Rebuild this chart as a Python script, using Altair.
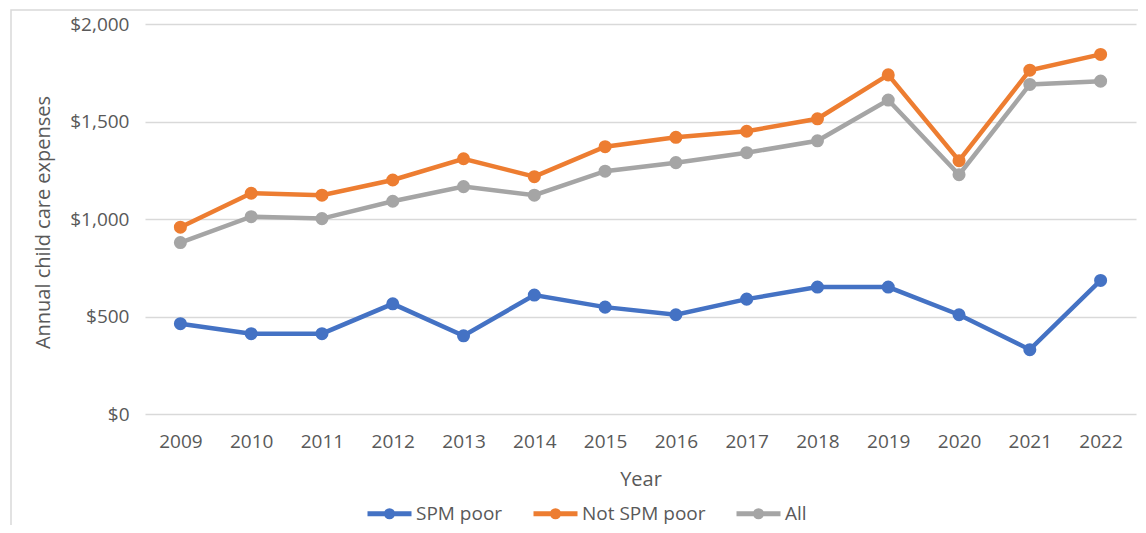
import altair as alt
import pandas as pd

years = [str(y) for y in range(2009, 2023)]
spm_poor = [463, 412, 412, 565, 401, 610, 548, 509, 589, 651, 651, 509, 330, 685]
not_spm_poor = [958, 1132, 1122, 1200, 1309, 1217, 1371, 1419, 1450, 1514, 1739, 1299, 1763, 1844]
all_families = [879, 1012, 1002, 1091, 1166, 1122, 1245, 1289, 1340, 1401, 1610, 1227, 1690, 1707]

series_names = ["SPM poor", "Not SPM poor", "All"]
series_colors = ["#4472C4", "#ED7D31", "#A5A5A5"]
y_ticks = [0, 500, 1000, 1500, 2000]

rows = []
for name, vals in zip(series_names, [spm_poor, not_spm_poor, all_families]):
    for yr, v in zip(years, vals):
        rows.append({"Year": yr, "Series": name, "Value": v})
df = pd.DataFrame(rows)

FONT = "Open Sans"
TXT = "#595959"
legend_path = "M-1,0H1M-0.14,0A0.14,0.14 0 1,1 0.14,0A0.14,0.14 0 1,1 -0.14,0Z"

lines = alt.Chart(df).mark_line(
    strokeWidth=4.5,
    point=alt.OverlayMarkDef(size=170, filled=True, opacity=1),
).encode(
    x=alt.X("Year:O", sort=years,
            scale=alt.Scale(type="point", padding=0.5),
            axis=alt.Axis(title="Year", labelAngle=0, domain=False, ticks=False, grid=False,
                          labelPadding=18, labelFontSize=19, labelColor=TXT, labelFont=FONT,
                          titleFontSize=20, titleColor=TXT, titleFont=FONT, titleFontWeight="normal",
                          titleY=55, titleBaseline="top")),
    y=alt.Y("Value:Q",
            scale=alt.Scale(domain=[0, 2000], nice=False),
            axis=alt.Axis(title="Annual child care expenses", values=y_ticks, format="$,.0f",
                          domain=False, ticks=False, grid=True, gridColor="#D9D9D9", gridWidth=1.5,
                          labelPadding=16, labelFontSize=19, labelColor=TXT, labelFont=FONT,
                          titleFontSize=20, titleColor=TXT, titleFont=FONT, titleFontWeight="normal",
                          titleX=-102, titleY=198, titleBaseline="middle", titleAlign="center",
                          titleAngle=270)),
    color=alt.Color("Series:N",
                    scale=alt.Scale(domain=series_names, range=series_colors),
                    legend=alt.Legend(title=None, orient="none", direction="horizontal",
                                      legendX=220, legendY=465,
                                      symbolType=legend_path, symbolSize=1936, symbolStrokeWidth=5,
                                      labelOffset=2, columnPadding=20,
                                      labelFontSize=19, labelColor=TXT, labelFont=FONT)),
    order=alt.Order("Year:O"),
)

border = alt.Chart(alt.Data(values=[{}])).mark_rect(
    filled=False, stroke="#D9D9D9", strokeWidth=1.5
).encode(
    x=alt.value(-134), x2=alt.value(1010), y=alt.value(-14), y2=alt.value(530)
)

chart = alt.layer(border, lines).properties(
    width=991, height=390,
    padding={"left": 137, "top": 16, "right": 2, "bottom": 111},
    autosize=alt.AutoSizeParams(type="none"),
).configure_view(stroke=None)

chart.save("out.html", embed_options={"renderer": "svg", "actions": False})
